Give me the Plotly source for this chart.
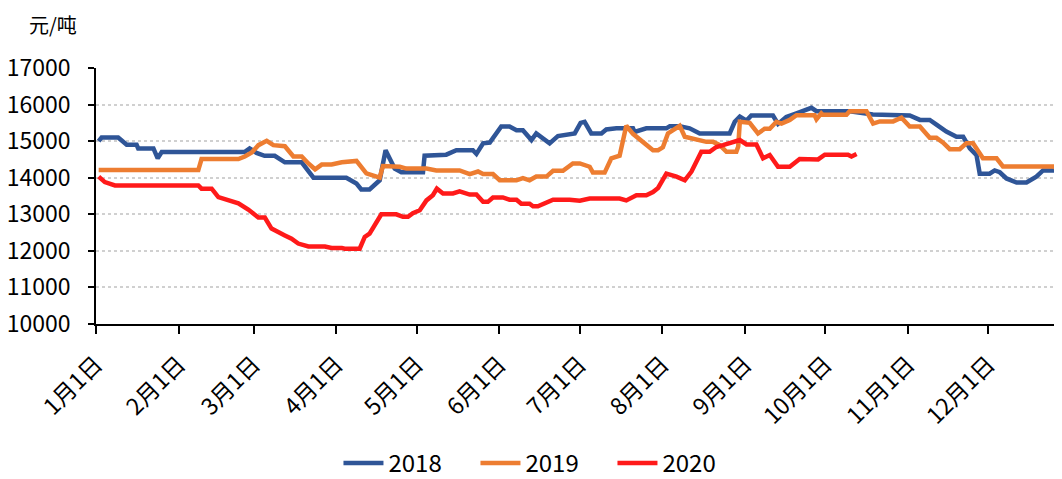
import plotly.graph_objects as go

# ---- data (day of year index, value in 元/吨) ----
month_starts = [0, 31, 59, 90, 120, 151, 181, 212, 243, 273, 304, 334]
month_labels = ["1月1日", "2月1日", "3月1日", "4月1日", "5月1日", "6月1日",
                "7月1日", "8月1日", "9月1日", "10月1日", "11月1日", "12月1日"]

days_2018 = [1, 2.1, 8.3, 11.5, 15.2, 15.8, 21.5, 23.1, 24.6, 55.6, 57.5, 60.1, 63.1, 66.9,
             70.7, 77, 81.4, 93.7, 97.5, 99.3, 102.4, 106.2, 108.4, 111.8, 114.3, 122.4,
             123, 131.1, 134.9, 141.1, 142.4, 144.9, 147.4, 151.7, 154.8, 157.4, 159.8,
             163, 164.8, 169.8, 172.9, 179.2, 181.4, 182.9, 185.4, 189.2, 191, 194.8, 201,
             201.6, 206, 213.5, 214.8, 218.5, 222.2, 226, 237.2, 239.1, 241, 243.5, 245.3,
             253.4, 255.3, 258.4, 262.2, 264.7, 267.8, 269.7, 282.1, 290.8, 299.6, 304.6,
             308.4, 312.1, 314.6, 318.3, 322.1, 324.6, 327.1, 329.6, 330.8, 334.5, 336.4,
             338.3, 340.8, 344.6, 348.3, 352, 354.5, 360.1, 361.6]
vals_2018 = [15000, 15100, 15100, 14900, 14900, 14800, 14800, 14530, 14700, 14700, 14800,
             14680, 14600, 14600, 14420, 14420, 14000, 14000, 13840, 13680, 13680, 13930,
             14750, 14250, 14150, 14150, 14600, 14630, 14750, 14750, 14650, 14940, 14960,
             15400, 15400, 15300, 15300, 15030, 15210, 14940, 15140, 15210, 15500, 15530,
             15210, 15210, 15320, 15350, 15350, 15250, 15350, 15350, 15410, 15410, 15350,
             15210, 15210, 15530, 15670, 15560, 15700, 15700, 15470, 15660, 15760, 15830,
             15910, 15820, 15820, 15730, 15730, 15700, 15580, 15580, 15450, 15260, 15120,
             15120, 14800, 14620, 14110, 14110, 14200, 14150, 13980, 13870, 13870, 14030,
             14200, 14200, 14120]

days_2019 = [1, 38.3, 39.5, 53.3, 55.7, 58.3, 60.8, 63.9, 66.4, 70.7, 73.9, 77, 79.5, 82,
             84.5, 88.2, 92, 97.5, 101.2, 106.2, 107.4, 113.7, 116.2, 123.7, 127.4, 136.1,
             139.9, 143, 144.9, 148.6, 151.1, 157.4, 159.8, 162.3, 164.8, 168.6, 171.1,
             174.8, 178.5, 181.1, 184.8, 186, 190.4, 192.9, 196, 198.5, 201, 203.5, 206,
             208.5, 210.4, 212.2, 214.1, 216.6, 218.5, 220.4, 224.7, 228.5, 231, 233.5, 236,
             239.7, 240.4, 241, 244.7, 247.8, 250.3, 252.2, 254.7, 256.6, 259.7, 262.2, 269,
             269.7, 271.5, 272.1, 280.9, 282.1, 288.4, 290.9, 293.4, 298.4, 301.5, 304.6,
             308.4, 312.1, 314.6, 317.1, 319.6, 323.3, 325.8, 328.3, 332, 337.1, 339.5,
             358.8, 361.6]
vals_2019 = [14210, 14210, 14510, 14510, 14580, 14690, 14890, 15010, 14890, 14860, 14580,
             14580, 14390, 14230, 14360, 14360, 14420, 14460, 14120, 14000, 14320, 14300,
             14250, 14250, 14200, 14200, 14100, 14170, 14100, 14100, 13930, 13930, 13990,
             13930, 14030, 14030, 14190, 14190, 14390, 14390, 14300, 14140, 14140, 14530,
             14600, 15420, 15200, 15040, 14890, 14750, 14750, 14830, 15210, 15340, 15420,
             15120, 15040, 14980, 14980, 14890, 14710, 14710, 14850, 15530, 15500, 15210,
             15340, 15340, 15530, 15480, 15580, 15710, 15710, 15600, 15760, 15720, 15720,
             15820, 15820, 15480, 15540, 15540, 15640, 15400, 15400, 15090, 15090, 14960,
             14780, 14780, 14940, 14940, 14530, 14530, 14310, 14310, 14000]

days_2020 = [1, 3.3, 7.1, 38.3, 39.5, 43.3, 45.8, 49.3, 53.3, 57, 60.8, 63.2, 65.7, 70.7,
             73.2, 75.7, 79.5, 85.7, 88.2, 92, 93.1, 98.7, 100.6, 102.4, 104.3, 106.8,
             112.4, 114.9, 116.8, 118.6, 121.2, 123.7, 126.1, 127.6, 129.9, 133.6, 136.1,
             139.9, 142.4, 144.9, 146.7, 148.6, 152.3, 154.8, 157.4, 159.2, 162.3, 163.6,
             165.4, 168.6, 171.1, 177.3, 181.1, 184.8, 196, 198.5, 202.3, 206, 208.5, 210.4,
             213.5, 217.3, 220.4, 222.9, 226.6, 229.7, 232.2, 234.7, 237.2, 241, 243.5,
             247.2, 249.7, 252.2, 255.3, 259.7, 263.4, 270.3, 272.8, 281.5, 282.8, 284.7]
vals_2020 = [14030, 13880, 13790, 13790, 13700, 13700, 13470, 13400, 13300, 13130, 12910,
             12910, 12610, 12420, 12330, 12200, 12120, 12120, 12080, 12080, 12060, 12060,
             12380, 12470, 12700, 13000, 13000, 12930, 12930, 13030, 13110, 13380, 13520,
             13700, 13570, 13570, 13630, 13540, 13540, 13340, 13340, 13460, 13460, 13400,
             13400, 13290, 13290, 13220, 13220, 13340, 13400, 13400, 13370, 13430, 13430,
             13380, 13520, 13520, 13610, 13720, 14110, 14030, 13930, 14170, 14710, 14710,
             14840, 14890, 14950, 15030, 14910, 14910, 14530, 14620, 14300, 14300, 14510,
             14500, 14630, 14630, 14580, 14650]

y_ticks = [10000, 11000, 12000, 13000, 14000, 15000, 16000, 17000]
y_labels = [str(v) for v in y_ticks]
unit_label = "元/吨"

FONT = "Noto Sans CJK SC, Noto Sans, sans-serif"

fig = go.Figure()
series = [("2018", days_2018, vals_2018, "#2F5597"),
          ("2019", days_2019, vals_2019, "#ED7D31"),
          ("2020", days_2020, vals_2020, "#FF1A1A")]
for name, xs, ys, col in series:
    fig.add_trace(go.Scatter(x=xs, y=ys, name=name, mode="lines",
                             line=dict(color=col, width=4.5)))

# the page body adds an 8px margin, so the figure is sized to fit the window
fig.update_layout(
    width=1054, height=471,
    margin=dict(l=88, r=0, t=60, b=155, autoexpand=False),
    paper_bgcolor="white", plot_bgcolor="white",
    font=dict(family=FONT, color="#000000", size=22),
    showlegend=True,
    legend=dict(orientation="h", x=0.251, xanchor="left", y=-0.545, yanchor="middle",
                font=dict(size=24, family=FONT), entrywidth=82, itemwidth=40,
                bgcolor="rgba(0,0,0,0)"),
    annotations=[dict(text=unit_label, xref="paper", yref="paper", x=-0.0445, y=1.17,
                      xanchor="center", yanchor="middle", showarrow=False,
                      font=dict(size=20, family=FONT, color="#000000"))],
)
fig.update_xaxes(range=[0, 361.6], tickmode="array", tickvals=month_starts,
                 ticktext=month_labels, tickangle=-45, ticks="outside", ticklen=8,
                 tickcolor="black", tickwidth=1.5, showline=True, linecolor="black",
                 linewidth=1.5, showgrid=False, zeroline=False, automargin=False,
                 tickfont=dict(size=23, family=FONT), ticklabelstandoff=8)
fig.update_yaxes(range=[10000, 17000], tickmode="array", tickvals=y_ticks,
                 ticktext=y_labels,
                 ticks="outside", ticklen=6, tickcolor="black", tickwidth=1.5,
                 showline=True, linecolor="black", linewidth=1.5,
                 showgrid=True, gridcolor="#D0D0D0", gridwidth=2, griddash="dot",
                 zeroline=False, automargin=False, tickfont=dict(size=23, family=FONT),
                 ticklabelstandoff=13)

fig.write_html("out.html")
